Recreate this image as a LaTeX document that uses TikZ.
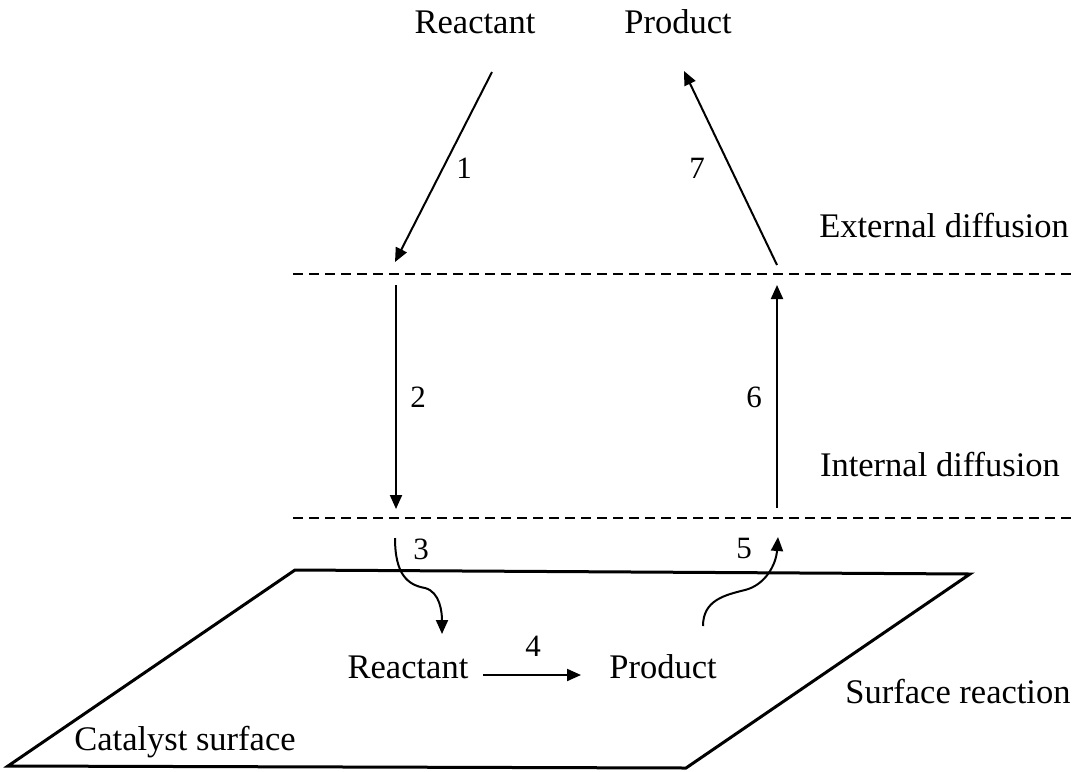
\documentclass[tikz,border=0pt]{standalone}
\usepackage{fontspec}
\setmainfont{Liberation Serif}
\usetikzlibrary{arrows.meta}
\begin{document}
\begin{tikzpicture}[x=1pt,y=-1pt,
  lbl/.style={font=\fontsize{34.5}{40}\selectfont, inner sep=0pt},
  num/.style={font=\fontsize{31}{36}\selectfont, inner sep=0pt},
  arr/.style={line width=2pt, -{Triangle[length=14pt,width=12pt]}},
  dline/.style={line width=1.8pt, dash pattern=on 10pt off 6pt},
  surf/.style={line width=3pt, line join=miter}]
\useasboundingbox (0,0) rectangle (1075,771);
% texts
\node[lbl] (r0) at (475,22) {Reactant};
\node[lbl] (p0) at (678,22) {Product};
\node[lbl] (ext) at (944,226) {External diffusion};
\node[lbl] (int) at (940,465) {Internal diffusion};
\node[lbl] (sr) at (958,692) {Surface reaction};
\node[lbl] (r1) at (408,667) {Reactant};
\node[lbl] (p1) at (663,667) {Product};
\node[lbl] (cs) at (185,742) {Catalyst surface};
% numbers
\node[num] (n1) at (464,168) {1};
\node[num] (n7) at (697,168) {7};
\node[num] (n2) at (418,397) {2};
\node[num] (n6) at (754,397) {6};
\node[num] (n3) at (421,549) {3};
\node[num] (n5) at (744,548) {5};
\node[num] (n4) at (533,646) {4};
% dashed lines
\coordinate (d1a) at (293,274); \coordinate (d1b) at (1072,274);
\coordinate (d2a) at (293,518); \coordinate (d2b) at (1072,518);
\draw[dline] (d1a) -- (d1b);
\draw[dline] (d2a) -- (d2b);
% surface
\coordinate (s1) at (295,570); \coordinate (s2) at (970,574);
\coordinate (s3) at (686,768); \coordinate (s4) at (8,766);
\draw[surf] (s1) -- (s2) -- (s3) -- (s4) -- cycle;
% arrow coordinates
\coordinate (a1s) at (492,72); \coordinate (a1e) at (395,262);
\coordinate (a7s) at (777,265); \coordinate (a7e) at (684,71);
\coordinate (a2s) at (396,285); \coordinate (a2e) at (396,509);
\coordinate (a6s) at (777,508); \coordinate (a6e) at (777,285);
\coordinate (a3s) at (395,538); \coordinate (a3m) at (425,588); \coordinate (a3e) at (442,634);
\coordinate (a5s) at (703,626); \coordinate (a5m) at (745,590); \coordinate (a5e) at (778,537);
\coordinate (a4s) at (483,675); \coordinate (a4e) at (581,675);
\draw[arr] (a1s) -- (a1e);
\draw[arr] (a7s) -- (a7e);
\draw[arr] (a2s) -- (a2e);
\draw[arr] (a6s) -- (a6e);
\draw[arr] (a4s) -- (a4e);
\draw[arr] (a3s) .. controls (395,575) and (408,585) .. (a3m) .. controls (440,592) and (442,612) .. (a3e);
\draw[arr] (a5s) .. controls (703,600) and (725,595) .. (a5m) .. controls (765,585) and (776,565) .. (a5e);
\end{tikzpicture}
\end{document}
